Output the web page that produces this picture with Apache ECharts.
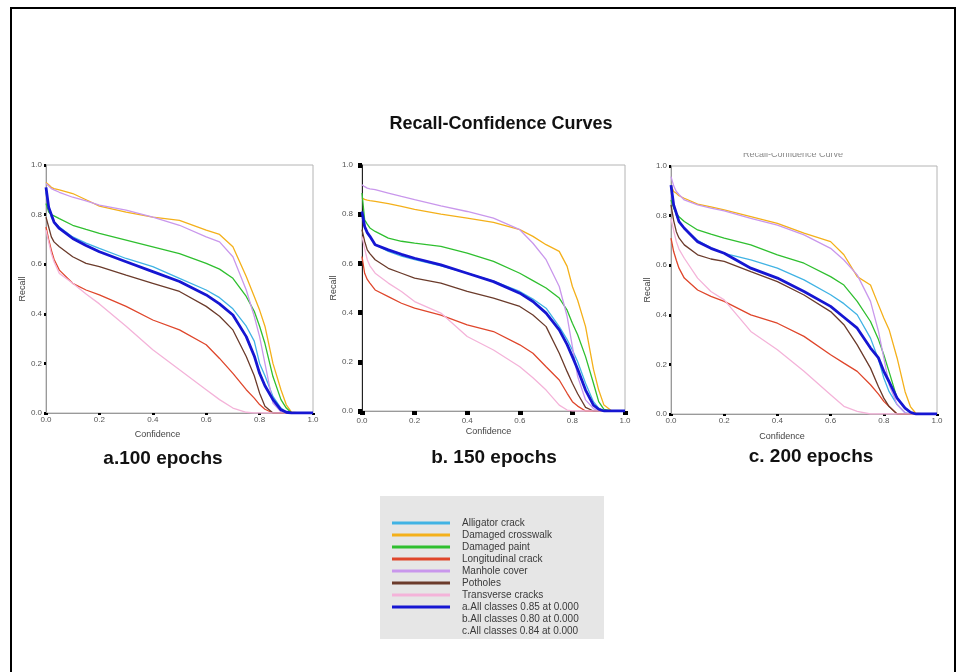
<!DOCTYPE html>
<html>
<head>
<meta charset="utf-8">
<title>Recall-Confidence Curves</title>
<script src="https://cdn.jsdelivr.net/npm/echarts@6/dist/echarts.min.js"></script>
<style>
    html, body { margin: 0; padding: 0; background: #fff; }
    #chart { width: 960px; height: 672px; }
</style>
</head>
<body>
<div id="chart"></div>
<script>
// confidence positions shared by every curve
var conf = [0, 0.01, 0.02, 0.03, 0.05, 0.1, 0.15, 0.2, 0.3, 0.4, 0.5, 0.6, 0.65, 0.7, 0.75, 0.78, 0.8, 0.82, 0.85, 0.88, 0.9, 0.92, 0.95, 1.0];

var classNames = ['Alligator crack', 'Damaged crosswalk', 'Damaged paint', 'Longitudinal crack', 'Manhole cover', 'Potholes', 'Transverse cracks'];
var classColors = ['#41b3e4', '#f4b01a', '#2fbf2f', '#df462b', '#c997ec', '#6b3b2b', '#f4b3d9'];
var allNames = ['a.All classes 0.85 at 0.000', 'b.All classes 0.80 at 0.000', 'c.All classes 0.84 at 0.000'];
var allColor = '#1616d2';
var panelTitles = ['a.100 epochs', 'b. 150 epochs', 'c. 200 epochs'];

/*---------------- a. 100 epochs ----------------*/
var aAlligator    = [0.89, 0.83, 0.79, 0.77, 0.75, 0.71, 0.685, 0.664, 0.623, 0.59, 0.543, 0.496, 0.465, 0.42, 0.35, 0.29, 0.2, 0.15, 0.067, 0.02, 0.005, 0, 0, 0];
var aCrosswalk    = [0.93, 0.92, 0.91, 0.905, 0.9, 0.885, 0.86, 0.834, 0.81, 0.79, 0.777, 0.737, 0.72, 0.67, 0.55, 0.47, 0.415, 0.35, 0.2, 0.094, 0.033, 0.003, 0, 0];
var aPaint        = [0.845, 0.81, 0.8, 0.795, 0.784, 0.757, 0.74, 0.724, 0.697, 0.67, 0.643, 0.603, 0.58, 0.543, 0.47, 0.41, 0.35, 0.28, 0.147, 0.054, 0.02, 0, 0, 0];
var aLongitudinal = [0.75, 0.7, 0.657, 0.62, 0.576, 0.523, 0.496, 0.476, 0.43, 0.375, 0.335, 0.275, 0.22, 0.16, 0.094, 0.06, 0.034, 0.015, 0, 0, 0, 0, 0, 0];
var aManhole      = [0.925, 0.915, 0.905, 0.9, 0.89, 0.87, 0.855, 0.838, 0.818, 0.79, 0.757, 0.71, 0.69, 0.63, 0.496, 0.39, 0.308, 0.2, 0.04, 0.005, 0, 0, 0, 0];
var aPotholes     = [0.79, 0.75, 0.71, 0.69, 0.67, 0.63, 0.603, 0.59, 0.556, 0.523, 0.49, 0.43, 0.39, 0.335, 0.228, 0.15, 0.08, 0.027, 0, 0, 0, 0, 0, 0];
var aTransverse   = [0.737, 0.69, 0.643, 0.61, 0.563, 0.523, 0.48, 0.44, 0.35, 0.255, 0.174, 0.094, 0.054, 0.02, 0.003, 0, 0, 0, 0, 0, 0, 0, 0, 0];
var aAll          = [0.91, 0.83, 0.8, 0.77, 0.744, 0.704, 0.675, 0.65, 0.61, 0.57, 0.53, 0.476, 0.44, 0.395, 0.308, 0.23, 0.16, 0.11, 0.054, 0.013, 0.003, 0, 0, 0];

/*---------------- b. 150 epochs ----------------*/
var bAlligator    = [0.81, 0.75, 0.725, 0.71, 0.676, 0.649, 0.63, 0.615, 0.59, 0.56, 0.528, 0.486, 0.455, 0.418, 0.343, 0.29, 0.248, 0.2, 0.113, 0.038, 0.012, 0, 0, 0];
var bCrosswalk    = [0.866, 0.86, 0.857, 0.855, 0.852, 0.843, 0.832, 0.82, 0.8, 0.784, 0.767, 0.737, 0.71, 0.676, 0.649, 0.588, 0.506, 0.45, 0.343, 0.17, 0.085, 0.024, 0, 0];
var bPaint        = [0.886, 0.777, 0.76, 0.744, 0.73, 0.703, 0.69, 0.682, 0.669, 0.642, 0.608, 0.56, 0.53, 0.5, 0.459, 0.41, 0.357, 0.31, 0.221, 0.113, 0.038, 0.007, 0, 0];
var bLongitudinal = [0.628, 0.56, 0.535, 0.52, 0.492, 0.465, 0.438, 0.418, 0.39, 0.35, 0.323, 0.269, 0.235, 0.18, 0.126, 0.072, 0.038, 0.02, 0, 0, 0, 0, 0, 0];
var bManhole      = [0.92, 0.912, 0.906, 0.903, 0.9, 0.886, 0.872, 0.859, 0.834, 0.811, 0.784, 0.737, 0.682, 0.615, 0.506, 0.384, 0.262, 0.14, 0.045, 0.01, 0, 0, 0, 0];
var bPotholes     = [0.737, 0.69, 0.655, 0.64, 0.615, 0.58, 0.56, 0.54, 0.52, 0.486, 0.459, 0.425, 0.39, 0.343, 0.235, 0.16, 0.113, 0.07, 0.015, 0, 0, 0, 0, 0];
var bTransverse   = [0.71, 0.66, 0.615, 0.59, 0.56, 0.52, 0.486, 0.445, 0.398, 0.303, 0.248, 0.18, 0.135, 0.085, 0.024, 0.004, 0, 0, 0, 0, 0, 0, 0, 0];
var bAll          = [0.811, 0.75, 0.725, 0.71, 0.676, 0.655, 0.637, 0.621, 0.594, 0.56, 0.526, 0.479, 0.445, 0.398, 0.33, 0.27, 0.221, 0.17, 0.085, 0.024, 0.007, 0, 0, 0];

/*---------------- c. 200 epochs ----------------*/
var cAlligator    = [0.92, 0.84, 0.8, 0.776, 0.749, 0.7, 0.67, 0.648, 0.621, 0.588, 0.541, 0.481, 0.445, 0.4, 0.306, 0.22, 0.145, 0.09, 0.038, 0.005, 0, 0, 0, 0];
var cCrosswalk    = [0.923, 0.897, 0.89, 0.88, 0.87, 0.846, 0.835, 0.823, 0.796, 0.769, 0.729, 0.695, 0.642, 0.554, 0.52, 0.44, 0.387, 0.34, 0.226, 0.09, 0.03, 0.003, 0, 0];
var cPaint        = [0.863, 0.83, 0.81, 0.795, 0.776, 0.742, 0.725, 0.709, 0.682, 0.642, 0.608, 0.554, 0.52, 0.454, 0.373, 0.3, 0.239, 0.17, 0.064, 0.024, 0.005, 0, 0, 0];
var cLongitudinal = [0.709, 0.655, 0.62, 0.588, 0.548, 0.5, 0.474, 0.454, 0.4, 0.366, 0.313, 0.239, 0.205, 0.172, 0.118, 0.08, 0.051, 0.03, 0, 0, 0, 0, 0, 0];
var cManhole      = [0.957, 0.92, 0.897, 0.885, 0.863, 0.843, 0.83, 0.819, 0.789, 0.762, 0.722, 0.668, 0.621, 0.561, 0.454, 0.333, 0.226, 0.118, 0.038, 0.005, 0, 0, 0, 0];
var cPotholes     = [0.843, 0.78, 0.735, 0.71, 0.682, 0.642, 0.625, 0.615, 0.574, 0.534, 0.48, 0.413, 0.36, 0.279, 0.185, 0.11, 0.064, 0.03, 0, 0, 0, 0, 0, 0];
var cTransverse   = [0.789, 0.74, 0.695, 0.665, 0.628, 0.548, 0.494, 0.46, 0.333, 0.259, 0.172, 0.078, 0.031, 0.011, 0, 0, 0, 0, 0, 0, 0, 0, 0, 0];
var cAll          = [0.923, 0.843, 0.81, 0.776, 0.749, 0.695, 0.668, 0.648, 0.588, 0.548, 0.494, 0.434, 0.39, 0.346, 0.266, 0.226, 0.172, 0.13, 0.064, 0.024, 0.007, 0, 0, 0];

var panelClasses = [
    [aAlligator, aCrosswalk, aPaint, aLongitudinal, aManhole, aPotholes, aTransverse],
    [bAlligator, bCrosswalk, bPaint, bLongitudinal, bManhole, bPotholes, bTransverse],
    [cAlligator, cCrosswalk, cPaint, cLongitudinal, cManhole, cPotholes, cTransverse]
];
var panelAll = [aAll, bAll, cAll];

// layout of the three plots (pixels)
var grids = [
    {left: 46, top: 165, width: 267, height: 248, titleX: 163, titleY: 459, nameShift: 44, xGap: 17, tick: 2, xMargin: 3, yMargin: 4, leftLine: '#9a9a9a'},
    {left: 362, top: 165, width: 263, height: 246, titleX: 494, titleY: 458, nameShift: 10, xGap: 16, tick: 4, xMargin: 6, yMargin: 9, leftLine: '#222'},
    {left: 671, top: 166, width: 266, height: 248, titleX: 811, titleY: 457, nameShift: 44, xGap: 18, tick: 2, xMargin: 3, yMargin: 4, leftLine: '#9a9a9a'}
];

var font = '"Liberation Sans", Arial, sans-serif';

function toPoints(values) {
    return conf.map(function (c, i) {
        return [c, values[i]];
    });
}

function axisLabelFmt(v) {
    return v.toFixed(1);
}

function initChart() {
    var myChart = echarts.init(document.getElementById('chart'));
    var gridList = [], xList = [], yList = [], seriesList = [];
    var titleList = [{
        text: 'Recall-Confidence Curves',
        left: 501,
        top: 115,
        textAlign: 'center',
        padding: 0,
        textStyle: {fontSize: 18, fontWeight: 'bold', color: '#111', fontFamily: font}
    }];

    grids.forEach(function (g, p) {
        gridList.push({
            left: g.left, top: g.top, width: g.width, height: g.height,
            show: true, borderColor: '#b4b4b4', borderWidth: 1, backgroundColor: 'transparent'
        });
        xList.push({
            gridIndex: p, type: 'value', min: 0, max: 1, interval: 0.2,
            name: 'Confidence', nameLocation: 'middle', nameGap: g.xGap,
            nameTextStyle: {fontSize: 9, color: '#444', fontFamily: font, padding: [0, g.nameShift, 0, 0]},
            axisLine: {lineStyle: {color: '#9a9a9a', width: 1}},
            axisTick: {show: true, length: g.tick, lineStyle: {color: '#000', width: g.tick + 1}},
            axisLabel: {fontSize: 8, color: '#555', margin: g.xMargin, fontFamily: font, formatter: axisLabelFmt},
            splitLine: {show: false}
        });
        yList.push({
            gridIndex: p, type: 'value', min: 0, max: 1, interval: 0.2,
            name: 'Recall', nameLocation: 'middle', nameGap: 19,
            nameTextStyle: {fontSize: 9, color: '#444', fontFamily: font},
            axisLine: {lineStyle: {color: g.leftLine, width: 1}},
            axisTick: {show: true, length: g.tick, lineStyle: {color: '#000', width: g.tick + 1}},
            axisLabel: {fontSize: 8, color: '#555', margin: g.yMargin, fontFamily: font, formatter: axisLabelFmt},
            splitLine: {show: false}
        });
        titleList.push({
            text: panelTitles[p],
            left: g.titleX,
            top: g.titleY - 10,
            textAlign: 'center',
            padding: 0,
            textStyle: {fontSize: 19, fontWeight: 'bold', color: '#111', fontFamily: font}
        });

        panelClasses[p].forEach(function (values, k) {
            seriesList.push({
                name: classNames[k], type: 'line',
                xAxisIndex: p, yAxisIndex: p,
                data: toPoints(values),
                showSymbol: false,
                color: classColors[k],
                lineStyle: {width: 1.3, color: classColors[k]}
            });
        });
        seriesList.push({
            name: allNames[p], type: 'line',
            xAxisIndex: p, yAxisIndex: p,
            data: toPoints(panelAll[p]),
            showSymbol: false,
            color: allColor,
            lineStyle: {width: 2.8, color: allColor},
            z: 3
        });
    });

    // legend: only the first "All classes" row carries a line
    var legendData = classNames.map(function (n) {
        return {name: n};
    });
    legendData.push({name: allNames[0]});
    legendData.push({name: allNames[1], icon: 'none'});
    legendData.push({name: allNames[2], icon: 'none'});

    var option = {
        animation: false,
        backgroundColor: '#fff',
        title: titleList,
        grid: gridList,
        xAxis: xList,
        yAxis: yList,
        series: seriesList,
        legend: {
            data: legendData,
            orient: 'vertical',
            left: 392,
            top: 517,
            padding: 0,
            itemGap: 0,
            itemWidth: 58,
            itemHeight: 3,
            icon: 'rect',
            selectedMode: false,
            textStyle: {fontSize: 10, lineHeight: 12, color: '#3a3a3a', fontFamily: font, padding: [0, 0, 0, 7]}
        },
        graphic: [
            {type: 'rect', z: -10, shape: {x: 380, y: 496, width: 224, height: 143}, style: {fill: '#e6e6e6'}},
            {type: 'rect', z: 100, shape: {x: 11, y: 8, width: 944, height: 680}, style: {fill: 'none', stroke: '#000', lineWidth: 2}},
            // clipped title left over above the third plot
            {type: 'text', z: 5, x: 793, y: 155, style: {text: 'Recall-Confidence Curve', fontSize: 9, fill: '#888', align: 'center', verticalAlign: 'middle', fontFamily: font}},
            {type: 'rect', z: 6, shape: {x: 700, y: 140, width: 190, height: 13}, style: {fill: '#fff'}}
        ]
    };

    myChart.setOption(option);
}

initChart();
</script>
</body>
</html>
